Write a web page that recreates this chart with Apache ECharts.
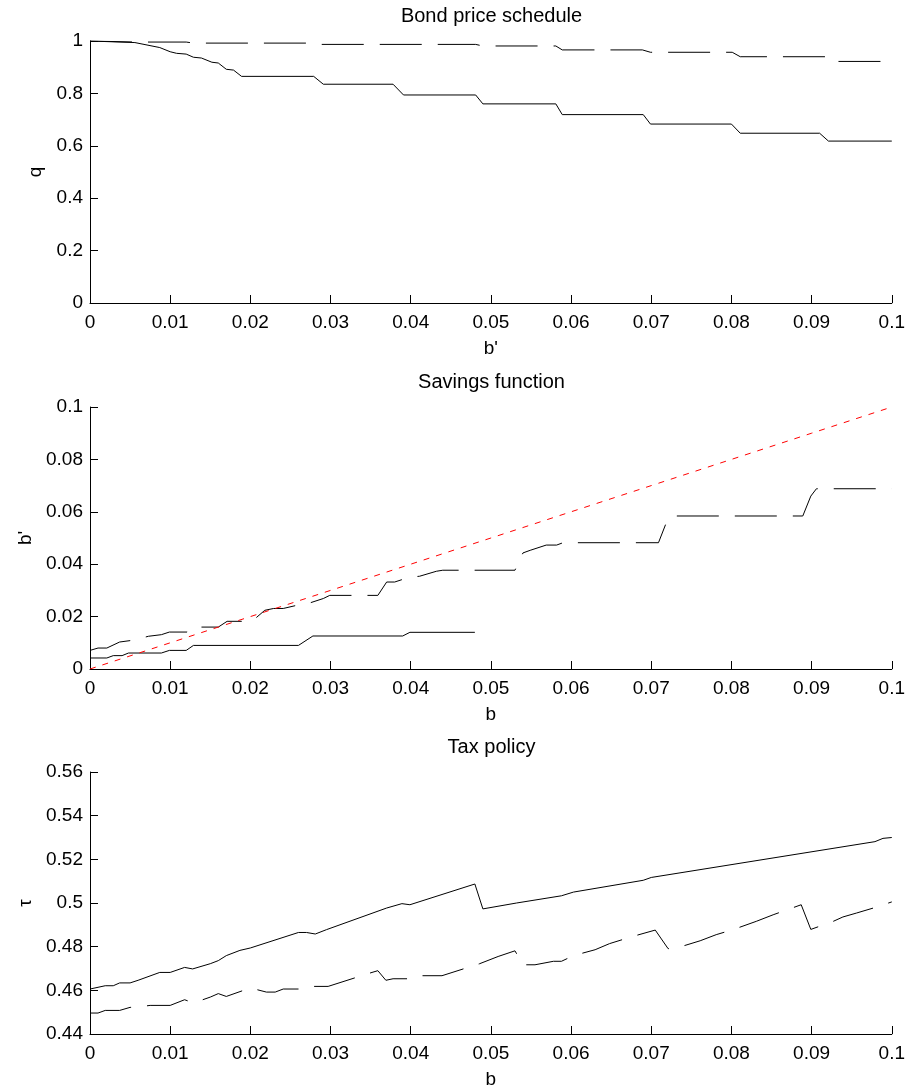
<!DOCTYPE html>
<html>
<head>
<meta charset="utf-8">
<script src="https://cdn.jsdelivr.net/npm/echarts@6/dist/echarts.min.js"></script>
<style>
  html, body { margin: 0; padding: 0; background: #fff; }
  #chart { width: 908px; height: 1091px; }
</style>
</head>
<body>
<div id="chart"></div>
<script>
// x ticks shared by all three panels
const bTicks = [0, 0.01, 0.02, 0.03, 0.04, 0.05, 0.06, 0.07, 0.08, 0.09, 0.1];

// Bond price schedule: [b', q]
const qSolid = [[0, 1.0], [0.0056, 0.994], [0.0087, 0.975], [0.010, 0.959], [0.0108, 0.953], [0.012, 0.950],
  [0.0129, 0.938], [0.0139, 0.935], [0.0152, 0.919], [0.016, 0.916], [0.017, 0.892], [0.0179, 0.889],
  [0.0189, 0.865], [0.0279, 0.865], [0.0291, 0.835], [0.0378, 0.835], [0.0391, 0.794], [0.0481, 0.794],
  [0.049, 0.760], [0.0581, 0.760], [0.0589, 0.719], [0.069, 0.719], [0.0699, 0.683], [0.080, 0.683],
  [0.0811, 0.648], [0.091, 0.648], [0.0921, 0.618], [0.1, 0.618]];
const qDashed = [[0, 1.0], [0.0056, 0.996], [0.012, 0.996], [0.0129, 0.992], [0.0279, 0.992], [0.0285, 0.987],
  [0.0481, 0.987], [0.049, 0.981], [0.0581, 0.981], [0.0589, 0.966], [0.0689, 0.966], [0.0699, 0.957],
  [0.0801, 0.957], [0.0811, 0.940], [0.0917, 0.940], [0.0921, 0.922], [0.1, 0.922]];

// Savings function: [b, b']
const sSolid = [[0, 0.0042], [0.0021, 0.0042], [0.0029, 0.0051], [0.004, 0.0051], [0.0048, 0.0061],
  [0.0089, 0.0061], [0.0099, 0.0071], [0.012, 0.0071], [0.0129, 0.009], [0.026, 0.009], [0.0278, 0.0126],
  [0.039, 0.0126], [0.0399, 0.014], [0.048, 0.014]];
const sDashed = [[0, 0.0071], [0.001, 0.008], [0.0021, 0.008], [0.0037, 0.0103], [0.0054, 0.011],
  [0.0073, 0.0125], [0.0089, 0.0131], [0.0099, 0.0141], [0.0121, 0.0141], [0.0129, 0.016], [0.016, 0.016],
  [0.0171, 0.0182], [0.0202, 0.0182], [0.0218, 0.0224], [0.0229, 0.0231], [0.0241, 0.0231], [0.0262, 0.0246],
  [0.0272, 0.025], [0.0291, 0.0269], [0.0299, 0.0281], [0.0359, 0.0281], [0.037, 0.0332], [0.038, 0.0332],
  [0.0399, 0.0351], [0.0411, 0.0354], [0.0432, 0.0373], [0.044, 0.0377], [0.053, 0.0377], [0.054, 0.0443],
  [0.0549, 0.0453], [0.0569, 0.0473], [0.0582, 0.0473], [0.059, 0.0482], [0.0709, 0.0482], [0.0721, 0.0576],
  [0.0732, 0.0584], [0.0889, 0.0584], [0.0899, 0.066], [0.0906, 0.0688], [0.1, 0.0688]];
const sDiag = [[0, 0], [0.01, 0.01], [0.02, 0.02], [0.03, 0.03], [0.04, 0.04], [0.05, 0.05],
  [0.06, 0.06], [0.07, 0.07], [0.08, 0.08], [0.09, 0.09], [0.1, 0.1]];

// Tax policy: [b, tau]
const tSolid = [[0, 0.4606], [0.0019, 0.4621], [0.0029, 0.4621], [0.0037, 0.4634], [0.005, 0.4634],
  [0.006, 0.4646], [0.0087, 0.4682], [0.01, 0.4682], [0.0118, 0.4705], [0.0128, 0.4698], [0.015, 0.4722],
  [0.016, 0.4736], [0.017, 0.4759], [0.0187, 0.4783], [0.02, 0.4794], [0.026, 0.4865], [0.027, 0.4865],
  [0.0281, 0.4858], [0.0295, 0.4878], [0.037, 0.4977], [0.0389, 0.4997], [0.0399, 0.4992], [0.048, 0.5087],
  [0.049, 0.4973], [0.0532, 0.5], [0.0588, 0.5033], [0.0603, 0.505], [0.069, 0.5104], [0.07, 0.5117],
  [0.0979, 0.5281], [0.0989, 0.5296], [0.1, 0.53]];
const tDashed = [[0, 0.4496], [0.001, 0.4496], [0.0019, 0.4508], [0.0037, 0.4508], [0.005, 0.4522],
  [0.0056, 0.4522], [0.0075, 0.4531], [0.01, 0.4531], [0.0118, 0.4557], [0.0129, 0.4542], [0.015, 0.4569],
  [0.016, 0.4585], [0.017, 0.4572], [0.02, 0.4611], [0.022, 0.4592], [0.0231, 0.4592], [0.0241, 0.4606],
  [0.026, 0.4606], [0.027, 0.4618], [0.0297, 0.4618], [0.0349, 0.4679], [0.0359, 0.469], [0.0369, 0.4646],
  [0.0378, 0.4653], [0.0399, 0.4653], [0.041, 0.4667], [0.0439, 0.4667], [0.0486, 0.4722], [0.0509, 0.4755],
  [0.053, 0.4781], [0.054, 0.4717], [0.0555, 0.4717], [0.0578, 0.4733], [0.0588, 0.4733], [0.0603, 0.4759],
  [0.063, 0.4786], [0.0648, 0.4814], [0.0677, 0.4847], [0.0705, 0.4876], [0.0721, 0.4791], [0.0729, 0.4791],
  [0.0761, 0.4827], [0.0781, 0.4855], [0.0802, 0.4878], [0.0831, 0.4916], [0.0852, 0.4946], [0.0887, 0.4992],
  [0.0899, 0.4879], [0.0927, 0.4916], [0.0939, 0.4936], [0.0956, 0.4954], [0.0977, 0.4977], [0.1, 0.5005]];

const FONT = "'Liberation Sans', Arial, sans-serif";
const titles = ["Bond price schedule", "Savings function", "Tax policy"];
const xNames = ["b'", "b", "b"];
const yNames = ["q", "b'", "\u03c4"];
const yRanges = [[0, 1, 0.2], [0, 0.1, 0.02], [0.44, 0.56, 0.02]];
const gridTops = [41, 407, 772];

const axisCommon = {
  axisLine: { lineStyle: { color: "#000", width: 1 } },
  axisTick: { inside: true, length: 8, lineStyle: { color: "#000" } },
  splitLine: { show: false },
  nameTextStyle: { fontFamily: FONT, fontSize: 19, color: "#000" },
  nameLocation: "middle"
};

const option = {
  animation: false,
  backgroundColor: "#fff",
  textStyle: { fontFamily: FONT },
  title: titles.map((t, i) => ({
    text: t,
    left: 491.5,
    top: gridTops[i] - 35,
    textAlign: "center",
    padding: 0,
    textStyle: { fontFamily: FONT, fontSize: 20, fontWeight: "normal", color: "#000" }
  })),
  grid: gridTops.map(t => ({ left: 90, top: t, width: 803, height: 262 })),
  xAxis: xNames.map((n, i) => Object.assign({}, axisCommon, {
    type: "value",
    gridIndex: i,
    min: bTicks[0],
    max: bTicks[bTicks.length - 1],
    interval: 0.01,
    name: n,
    nameGap: 36,
    axisLabel: { fontFamily: FONT, fontSize: 19, color: "#000", margin: 10 }
  })),
  yAxis: yNames.map((n, i) => Object.assign({}, axisCommon, {
    type: "value",
    gridIndex: i,
    min: yRanges[i][0],
    max: yRanges[i][1],
    interval: yRanges[i][2],
    name: n,
    nameGap: i === 0 ? 39 : 51,
    axisLabel: { fontFamily: FONT, fontSize: 19, color: "#000", margin: 7 }
  })),
  series: [
    { data: qSolid, xAxisIndex: 0, yAxisIndex: 0, lineStyle: { color: "#000", width: 1 } },
    { data: qDashed, xAxisIndex: 0, yAxisIndex: 0, lineStyle: { color: "#000", width: 1, type: [42, 16] } },
    { data: sSolid, xAxisIndex: 1, yAxisIndex: 1, lineStyle: { color: "#000", width: 1 } },
    { data: sDashed, xAxisIndex: 1, yAxisIndex: 1, lineStyle: { color: "#000", width: 1, type: [42, 16] } },
    { data: sDiag, xAxisIndex: 1, yAxisIndex: 1, lineStyle: { color: "#ff0000", width: 1, type: [6, 7] } },
    { data: tSolid, xAxisIndex: 2, yAxisIndex: 2, lineStyle: { color: "#000", width: 1 } },
    { data: tDashed, xAxisIndex: 2, yAxisIndex: 2, lineStyle: { color: "#000", width: 1, type: [42, 16] } }
  ].map(s => Object.assign({ type: "line", showSymbol: false, symbol: "none", silent: true }, s))
};

const chart = echarts.init(document.getElementById("chart"));
chart.setOption(option);
</script>
</body>
</html>
